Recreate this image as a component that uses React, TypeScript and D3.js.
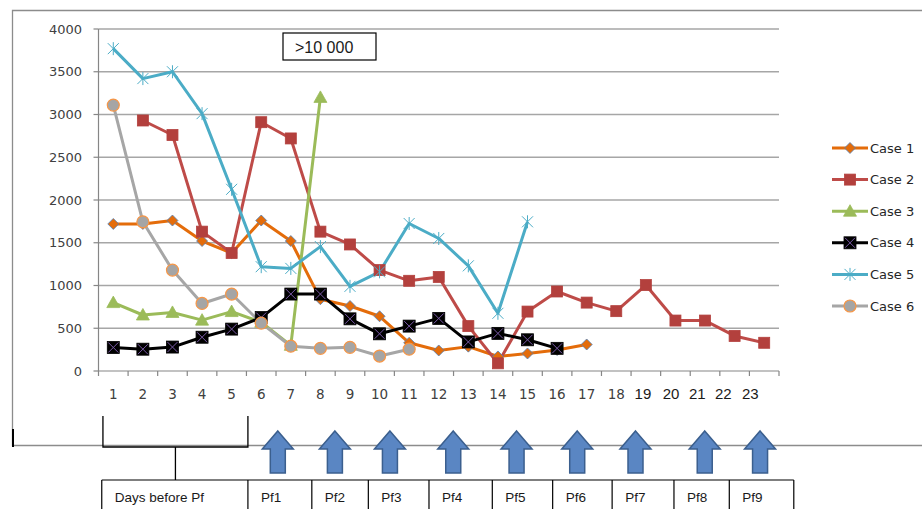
import React from 'react';
import * as d3 from 'd3';

const categories = [1, 2, 3, 4, 5, 6, 7, 8, 9, 10, 11, 12, 13, 14, 15, 16, 17, 18, 19, 20, 21, 22, 23];
const yTicks = [0, 500, 1000, 1500, 2000, 2500, 3000, 3500, 4000];

const case1 = [1720, 1720, 1760, 1520, 1380, 1760, 1520, 840, 760, 640, 330, 240, 285, 170, 205, 245, 310];
const case2 = [null, 2930, 2760, 1630, 1380, 2910, 2720, 1630, 1480, 1180, 1055, 1100, 525, 90, 695, 930, 800, 700, 1005, 590, 590, 410, 330];
const case3 = [800, 655, 685, 595, 695, 570, 300, 3200];
const case4 = [275, 255, 280, 395, 490, 625, 900, 900, 610, 435, 525, 615, 340, 440, 365, 265];
const case5 = [3770, 3420, 3500, 3010, 2125, 1220, 1200, 1455, 990, 1160, 1725, 1550, 1230, 675, 1745];
const case6 = [3110, 1745, 1180, 790, 900, 560, 290, 265, 277, 175, 255];

const seriesNames = ['Case 1', 'Case 2', 'Case 3', 'Case 4', 'Case 5', 'Case 6'];

// annotation positions, in x-category units
const lateLabelPos = [18.9, 19.85, 20.74, 21.62, 22.53];
const arrowPos = [6.56, 8.49, 10.35, 12.49, 14.63, 16.68, 18.65, 20.99, 22.86];
const tableEdges = [0.61, 5.55, 7.71, 9.62, 11.67, 13.81, 15.85, 17.86, 19.95, 21.82, 24.0];
const tableLabels = ['Days before Pf', 'Pf1', 'Pf2', 'Pf3', 'Pf4', 'Pf5', 'Pf6', 'Pf7', 'Pf8', 'Pf9'];
const bracketRange = [0.65, 5.55];
const calloutText = '>10 000';

const W = 922, H = 509;
const plotL = 98.5, plotR = 779, plotT = 29, plotB = 371;

const styles = [
  { line: '#e46c0a', marker: 'diamond', fill: '#e46c0a', stroke: '#4f81bd' },
  { line: '#be4b48', marker: 'square', fill: '#b3403d', stroke: '#b3403d' },
  { line: '#9bbb59', marker: 'triangle', fill: '#9bbb59', stroke: '#9bbb59' },
  { line: '#000000', marker: 'xsquare', fill: '#000000', stroke: '#7b5ba8' },
  { line: '#4bacc6', marker: 'star', fill: 'none', stroke: '#4bacc6' },
  { line: '#a6a6a6', marker: 'circle', fill: '#a5a5a5', stroke: '#f79646' },
];

function Marker({ type, x, y, fill, stroke }: any) {
  switch (type) {
    case 'diamond':
      return <path d={`M${x},${y - 5.5}L${x + 5.5},${y}L${x},${y + 5.5}L${x - 5.5},${y}Z`} fill={fill} stroke={stroke} strokeWidth={0.8} />;
    case 'square':
      return <rect x={x - 5.5} y={y - 5.5} width={11} height={11} fill={fill} stroke={stroke} strokeWidth={0.8} />;
    case 'triangle':
      return <path d={`M${x},${y - 6.5}L${x + 6.5},${y + 5}L${x - 6.5},${y + 5}Z`} fill={fill} stroke={stroke} strokeWidth={0.8} />;
    case 'xsquare':
      return (
        <g>
          <rect x={x - 6} y={y - 6} width={12} height={12} fill={fill} stroke="#000" strokeWidth={0.8} />
          <path d={`M${x - 5},${y - 5}L${x + 5},${y + 5}M${x + 5},${y - 5}L${x - 5},${y + 5}`} stroke={stroke} strokeWidth={1} />
        </g>
      );
    case 'star':
      return <path d={`M${x - 5.5},${y - 5.5}L${x + 5.5},${y + 5.5}M${x + 5.5},${y - 5.5}L${x - 5.5},${y + 5.5}M${x},${y - 6.5}L${x},${y + 6.5}`} stroke={stroke} strokeWidth={1} fill="none" />;
    case 'circle':
      return <circle cx={x} cy={y} r={6} fill={fill} stroke={stroke} strokeWidth={1.2} />;
  }
  return null;
}

export default function App() {
  const x = d3.scaleBand<number>().domain(categories).range([plotL, plotR]).padding(0);
  const xc = (c: number) => (x(c) as number) + x.bandwidth() / 2;
  const xu = d3.scaleLinear().domain([0.5, 23.5]).range([plotL, plotR]);
  const y = d3.scaleLinear().domain([0, 4000]).range([plotB, plotT]);

  const all = [case1, case2, case3, case4, case5, case6];
  const series = all.map((vals) =>
    vals.map((v, i) => ({ c: categories[i], v })).filter((d) => d.v !== null) as { c: number; v: number }[]
  );
  const line = d3.line<{ c: number; v: number }>().x((d) => xc(d.c)).y((d) => y(d.v));

  const font = 'DejaVu Sans, sans-serif';
  const arrowTop = 431, arrowBot = 473, headH = 18, headW = 15.5, shaftW = 7.5;
  const tableTop = 480;
  const legendX = 832;

  return (
    <svg width={W} height={H} style={{ position: 'absolute', left: 0, top: 0, background: '#fff' }}>
      <rect x={0} y={0} width={W} height={H} fill="#fff" />
      {/* frame */}
      <path d={`M${W + 5},10.5H12.5V445.5H${W + 5}`} fill="none" stroke="#8c8c8c" strokeWidth={1.3} />
      <line x1={13} x2={13} y1={429} y2={447} stroke="#000" strokeWidth={2} />

      {/* gridlines */}
      {yTicks.filter((t) => t > 0).map((t) => (
        <line key={t} x1={plotL} x2={plotR} y1={y(t)} y2={y(t)} stroke="#a6a6a6" strokeWidth={1.3} />
      ))}
      {/* axes */}
      <line x1={plotL} x2={plotL} y1={plotT} y2={plotB} stroke="#868686" strokeWidth={1.2} />
      <line x1={plotL} x2={plotR} y1={plotB} y2={plotB} stroke="#868686" strokeWidth={1.2} />
      {yTicks.map((t) => (
        <g key={t}>
          <line x1={plotL - 5} x2={plotL} y1={y(t)} y2={y(t)} stroke="#868686" strokeWidth={1.2} />
          <text x={82} y={y(t)} dy="0.36em" textAnchor="end" fontFamily={font} fontSize={13} fill="#404040">{t}</text>
        </g>
      ))}
      {[...categories, 24].map((c) => (
        <line key={c} x1={xu(c - 0.5)} x2={xu(c - 0.5)} y1={plotB} y2={plotB + 5} stroke="#868686" strokeWidth={1.2} />
      ))}
      {categories.map((c) => {
        const late = c > 18;
        const px = late ? xu(lateLabelPos[c - 19]) : xc(c);
        return (
          <text key={c} x={px} y={394} dy="0.36em" textAnchor="middle" fontFamily={late ? 'Liberation Sans, sans-serif' : font}
            fontSize={late ? 15 : 13.5} fill={late ? '#1a1a1a' : '#404040'}>{c}</text>
        );
      })}

      {/* series */}
      {series.map((s, i) => (
        <path key={i} d={line(s) || ''} fill="none" stroke={styles[i].line} strokeWidth={3} strokeLinejoin="round" />
      ))}
      {series.map((s, i) => (
        <g key={'m' + i}>
          {s.map((d) => (
            <Marker key={d.c} type={styles[i].marker} x={xc(d.c)} y={y(d.v)} fill={styles[i].fill} stroke={styles[i].stroke} />
          ))}
        </g>
      ))}

      {/* callout */}
      <rect x={283} y={33} width={93} height={27} fill="#fff" stroke="#000" strokeWidth={1.2} />
      <text x={295} y={47} dy="0.36em" fontFamily="Liberation Sans, sans-serif" fontSize={16} fill="#1a1a1a">{calloutText}</text>

      {/* legend */}
      {seriesNames.map((n, i) => {
        const ly = 148 + i * 31.6;
        return (
          <g key={n}>
            <line x1={legendX} x2={legendX + 36} y1={ly} y2={ly} stroke={styles[i].line} strokeWidth={3} />
            <Marker type={styles[i].marker} x={legendX + 18} y={ly} fill={styles[i].fill} stroke={styles[i].stroke} />
            <text x={legendX + 38} y={ly} dy="0.36em" fontFamily={font} fontSize={13} fill="#262626">{n}</text>
          </g>
        );
      })}

      {/* bracket */}
      <path d={`M${xu(bracketRange[0])},416V447H${xu(bracketRange[1])}V416`} fill="none" stroke="#000" strokeWidth={1.3} />
      <line x1={xu((bracketRange[0] + bracketRange[1]) / 2)} x2={xu((bracketRange[0] + bracketRange[1]) / 2)} y1={447} y2={tableTop} stroke="#000" strokeWidth={1.3} />

      {/* arrows */}
      {arrowPos.map((p, i) => {
        const cx = xu(p);
        const d = `M${cx},${arrowTop}L${cx + headW},${arrowTop + headH}L${cx + shaftW},${arrowTop + headH}L${cx + shaftW},${arrowBot}L${cx - shaftW},${arrowBot}L${cx - shaftW},${arrowTop + headH}L${cx - headW},${arrowTop + headH}Z`;
        return <path key={i} d={d} fill="#5a86c3" stroke="#3b5f8e" strokeWidth={1.5} strokeLinejoin="miter" />;
      })}

      {/* table */}
      <line x1={xu(tableEdges[0])} x2={xu(tableEdges[tableEdges.length - 1])} y1={tableTop} y2={tableTop} stroke="#000" strokeWidth={1.2} />
      {tableEdges.map((e, i) => (
        <line key={i} x1={xu(e)} x2={xu(e)} y1={tableTop} y2={H + 2} stroke="#000" strokeWidth={1.2} />
      ))}
      {tableLabels.map((t, i) => (
        <text key={t} x={xu(tableEdges[i]) + 13} y={497} dy="0.36em" fontFamily="Liberation Sans, sans-serif" fontSize={13.5} fill="#1a1a1a">{t}</text>
      ))}
    </svg>
  );
}
